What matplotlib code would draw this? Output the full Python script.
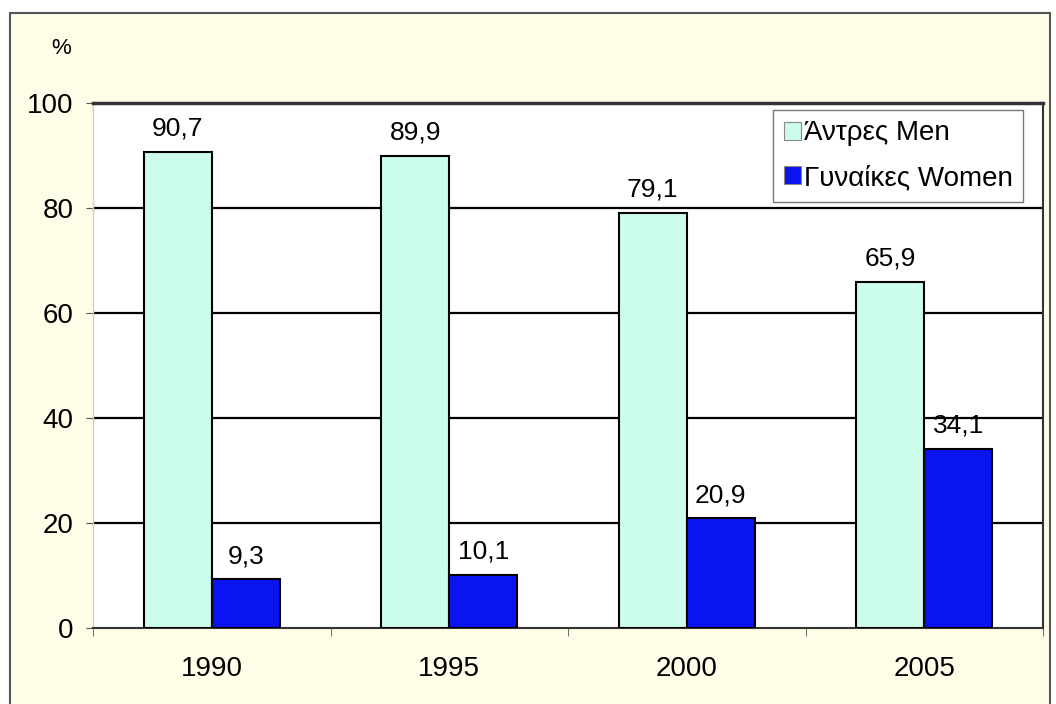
import numpy as np
import matplotlib
matplotlib.use('Agg')
import matplotlib.pyplot as plt
from matplotlib.patches import Rectangle

plt.rcParams['font.family'] = ['Liberation Sans', 'DejaVu Sans']

years = ['1990', '1995', '2000', '2005']
men = [90.7, 89.9, 79.1, 65.9]
women = [9.3, 10.1, 20.9, 34.1]
series_labels = ['Άντρες Men', 'Γυναίκες Women']
yticks = [0, 20, 40, 60, 80, 100]

men_color = '#ccfcec'
women_color = '#0a14f0'

fig = plt.figure(figsize=(10.56, 7.04), dpi=100, facecolor='white')
# outer frame of the picture
fig.patches.append(Rectangle((10 / 1056, -0.01), 1040 / 1056, 1 - 13 / 704 + 0.01,
                             transform=fig.transFigure, facecolor='#fffde8',
                             edgecolor='#555555', linewidth=1.5, zorder=-10))

ax = fig.add_axes([93 / 1056, 1 - 628 / 704, 950 / 1056, 525 / 704])
ax.set_facecolor('white')

x = np.arange(len(years))
w = 0.286
b1 = ax.bar(x - w / 2, men, w, color=men_color, edgecolor='black', linewidth=1.5,
            label=series_labels[0], zorder=3)
b2 = ax.bar(x + w / 2, women, w, color=women_color, edgecolor='black', linewidth=1.5,
            label=series_labels[1], zorder=3)

for bars, vals in ((b1, men), (b2, women)):
    for r, v in zip(bars, vals):
        ax.annotate(f'{v:.1f}'.replace('.', ','), (r.get_x() + r.get_width() / 2, v),
                    xytext=(0, 8), textcoords='offset points', ha='center', va='bottom',
                    fontsize=19, zorder=4)

ax.set_xlim(-0.5, len(years) - 0.5)
ax.set_ylim(0, 100)
ax.set_yticks(yticks)
ax.set_yticklabels([str(t) for t in yticks], fontsize=20)
ax.set_xticks(x)
ax.set_xticklabels(years, fontsize=20)
ax.tick_params(axis='x', length=0, pad=20)
ax.set_xticks(np.arange(len(years) + 1) - 0.5, minor=True)
ax.tick_params(axis='x', which='minor', length=6, direction='out', color='#555555')
ax.tick_params(axis='y', length=5, direction='out', pad=9, color='#555555')

for t in yticks[1:-1]:
    ax.axhline(t, color='black', linewidth=1.6, zorder=1)

ax.spines['top'].set_color('#333333')
ax.spines['top'].set_linewidth(2.5)
ax.spines['bottom'].set_color('#333333')
ax.spines['bottom'].set_linewidth(1.5)
ax.spines['right'].set_color('#333333')
ax.spines['right'].set_linewidth(1.5)
ax.spines['left'].set_color('#cccccc')
ax.spines['left'].set_linewidth(1.0)

fig.text(61 / 1056, 1 - 48 / 704, '%', fontsize=16, ha='center', va='center')

leg = ax.legend(loc='upper right', bbox_to_anchor=(0.979, 0.987), fontsize=20,
                frameon=True, fancybox=False, edgecolor='#777777', framealpha=1,
                handlelength=0.62, handleheight=0.62, handletextpad=0.1,
                borderpad=0.38, labelspacing=0.68, borderaxespad=0)
leg.get_frame().set_linewidth(1.0)
for h in leg.legend_handles:
    h.set_edgecolor('#888888')
    h.set_linewidth(0.8)

fig.savefig('out.png', dpi=100, facecolor=fig.get_facecolor())
